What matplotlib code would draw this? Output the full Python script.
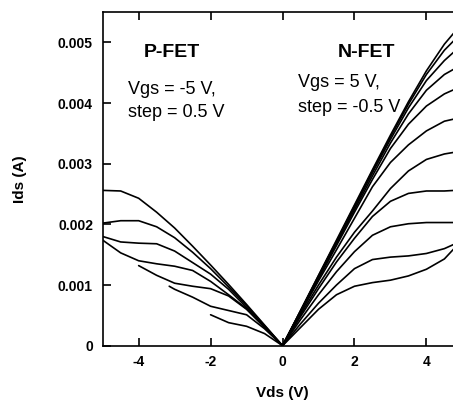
import numpy as np
import matplotlib
matplotlib.use("Agg")
import matplotlib.pyplot as plt

plt.rcParams['font.family'] = ['Liberation Sans', 'DejaVu Sans']
plt.rcParams['axes.unicode_minus'] = False

# N-FET output curves, Vgs = 5 V down to 0 V in -0.5 V steps
vds_n = [0, 0.5, 1.0, 1.5, 2.0, 2.5, 3.0, 3.5, 4.0, 4.5, 4.8]
ids_n_50 = [0, 0.00058, 0.00116, 0.00174, 0.00232, 0.00290, 0.00347, 0.00402, 0.00453, 0.00497, 0.00518]
ids_n_45 = [0, 0.00057, 0.00115, 0.00172, 0.00230, 0.00288, 0.00344, 0.00398, 0.00447, 0.00487, 0.00505]
ids_n_40 = [0, 0.00057, 0.00114, 0.00171, 0.00228, 0.00285, 0.00340, 0.00392, 0.00437, 0.00470, 0.00486]
ids_n_35 = [0, 0.00056, 0.00112, 0.00168, 0.00224, 0.00280, 0.00334, 0.00382, 0.00421, 0.00447, 0.00457]
ids_n_30 = [0, 0.00055, 0.00110, 0.00165, 0.00220, 0.00274, 0.00325, 0.00365, 0.00395, 0.00415, 0.00423]
ids_n_25 = [0, 0.00054, 0.00107, 0.00158, 0.00210, 0.00262, 0.00302, 0.00331, 0.00354, 0.00370, 0.00374]
ids_n_20 = [0, 0.00051, 0.00100, 0.00146, 0.00187, 0.00222, 0.00259, 0.00288, 0.00307, 0.00316, 0.00319]
ids_n_15 = [0, 0.00048, 0.00094, 0.00138, 0.00177, 0.00213, 0.00238, 0.00251, 0.00255, 0.00255, 0.00256]
ids_n_10 = [0, 0.00043, 0.00084, 0.00122, 0.00155, 0.00182, 0.00196, 0.00201, 0.00203, 0.00203, 0.00203]
ids_n_05 = [0, 0.00036, 0.00070, 0.00100, 0.00127, 0.00142, 0.00146, 0.00148, 0.00152, 0.00160, 0.00168]
ids_n_00 = [0, 0.00030, 0.00060, 0.00084, 0.00098, 0.00104, 0.00108, 0.00115, 0.00126, 0.00143, 0.00162]

# P-FET output curves, Vgs = -5 V up to -2 V in 0.5 V steps (Ids shown positive)
vds_p_50 = [-5.0, -4.5, -4.0, -3.5, -3.0, -2.5, -2.0, -1.5, -1.0, -0.5, 0]
ids_p_50 = [0.00256, 0.00255, 0.00243, 0.00220, 0.00194, 0.00164, 0.00133, 0.00101, 0.00068, 0.00034, 0]
vds_p_45 = [-5.0, -4.5, -4.0, -3.5, -3.0, -2.5, -2.0, -1.5, -1.0, -0.5, 0]
ids_p_45 = [0.00202, 0.00206, 0.00206, 0.00196, 0.00178, 0.00154, 0.00127, 0.00097, 0.00066, 0.00033, 0]
vds_p_40 = [-5.0, -4.5, -4.0, -3.5, -3.0, -2.5, -2.0, -1.5, -1.0, -0.5, 0]
ids_p_40 = [0.00180, 0.00171, 0.00169, 0.00168, 0.00156, 0.00137, 0.00118, 0.00093, 0.00063, 0.00032, 0]
vds_p_35 = [-5.0, -4.5, -4.0, -3.5, -3.0, -2.5, -2.0, -1.5, -1.0, -0.5, 0]
ids_p_35 = [0.00174, 0.00153, 0.00140, 0.00135, 0.00131, 0.00124, 0.00106, 0.00084, 0.00061, 0.00031, 0]
vds_p_30 = [-4.0, -3.5, -3.0, -2.5, -2.0, -1.5, -1.0, -0.5, 0]
ids_p_30 = [0.00132, 0.00116, 0.00103, 0.00098, 0.00094, 0.00082, 0.00060, 0.00030, 0]
vds_p_25 = [-3.15, -3.0, -2.5, -2.0, -1.5, -1.0, -0.5, 0]
ids_p_25 = [0.00098, 0.00093, 0.00080, 0.00065, 0.00058, 0.00051, 0.00028, 0]
vds_p_20 = [-2.0, -1.5, -1.0, -0.5, 0]
ids_p_20 = [0.00051, 0.00038, 0.00032, 0.00020, 0]

x_ticks = [-4, -2, 0, 2, 4]
x_tick_labels = ["-4", "-2", "0", "2", "4"]
y_ticks = [0, 0.001, 0.002, 0.003, 0.004, 0.005]
y_tick_labels = ["0", "0.001", "0.002", "0.003", "0.004", "0.005"]

fig = plt.figure(figsize=(4.53, 4.05), dpi=100)
# right edge of the axes runs past the figure, as in the cropped original
ax = fig.add_axes([0.2267, 0.1464, 0.794, 0.824])

n_curves = [ids_n_50, ids_n_45, ids_n_40, ids_n_35, ids_n_30, ids_n_25,
            ids_n_20, ids_n_15, ids_n_10, ids_n_05, ids_n_00]
for ids in n_curves:
    ax.plot(vds_n, ids, color='k', lw=1.2, solid_capstyle='round')

p_curves = [(vds_p_50, ids_p_50), (vds_p_45, ids_p_45), (vds_p_40, ids_p_40),
            (vds_p_35, ids_p_35), (vds_p_30, ids_p_30), (vds_p_25, ids_p_25),
            (vds_p_20, ids_p_20)]
for vds, ids in p_curves:
    ax.plot(vds, ids, color='k', lw=1.2, solid_capstyle='round')

ax.set_xlim(-5, 5)
ax.set_ylim(0, 0.0055)
ax.set_xticks(x_ticks)
ax.set_xticklabels(x_tick_labels, fontweight='bold', fontsize=10)
ax.set_yticks(y_ticks)
ax.set_yticklabels(y_tick_labels, fontweight='bold', fontsize=10)
ax.tick_params(direction='in', length=6, width=1.2, top=True, right=False)
ax.tick_params(axis='x', pad=7)
ax.tick_params(axis='y', pad=7)
for s in ax.spines.values():
    s.set_linewidth(1.2)

ax.set_xlabel("Vds (V)", fontweight='bold', fontsize=11, labelpad=12)
ax.set_ylabel("Ids (A)", fontweight='bold', fontsize=11, labelpad=22)

ax.text(-3.07, 0.00483, "P-FET", fontsize=14, fontweight='bold', ha='center', va='center')
ax.text(-4.29, 0.00422, "Vgs = -5 V,", fontsize=13, ha='left', va='center')
ax.text(-4.29, 0.00384, "step = 0.5 V", fontsize=13, ha='left', va='center')

ax.text(2.33, 0.00483, "N-FET", fontsize=14, fontweight='bold', ha='center', va='center')
ax.text(0.43, 0.00433, "Vgs = 5 V,", fontsize=13, ha='left', va='center')
ax.text(0.43, 0.00392, "step = -0.5 V", fontsize=13, ha='left', va='center')

fig.savefig("out.png", dpi=100)
